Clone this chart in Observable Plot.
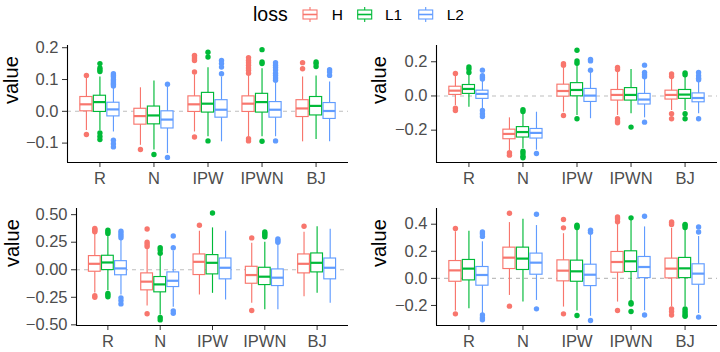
<!DOCTYPE html>
<html><head><meta charset="utf-8">
<script src="https://cdn.jsdelivr.net/npm/d3@7"></script>
<script src="https://cdn.jsdelivr.net/npm/@observablehq/plot@0.6"></script>
<style>
body{margin:0;background:#fff;}
#wrap{position:relative;width:720px;height:352px;font-family:"Liberation Sans",Arial,Helvetica,sans-serif;}
#wrap > div.panel{position:absolute;}
</style></head><body>
<div id="wrap"><svg id="legend" width="720" height="30" style="position:absolute;left:0;top:0"></svg></div>
<script>
const categories = ["R", "N", "IPW", "IPWN", "BJ"];
const losses = ["H", "L1", "L2"];
const lossColors = ["#F8766D", "#00BA38", "#619CFF"];

// rows: [category, loss, whiskerLow, q1, median, q3, whiskerHigh, outliers]
const panel1 = [
  ["R","H",-0.06,0.0,0.022,0.045,0.105,[0.113,-0.073]],
  ["R","L1",-0.06,-0.002,0.029,0.049,0.108,[0.15,0.136,0.131,0.125,-0.068,-0.079,-0.089]],
  ["R","L2",-0.065,-0.016,0.006,0.027,0.076,[0.118,0.113,0.108,0.1,0.095,0.09,0.085,0.08,-0.091,-0.102,-0.112]],
  ["N","H",-0.107,-0.042,-0.015,0.008,0.074,[-0.12]],
  ["N","L1",-0.122,-0.041,-0.013,0.015,0.095,[-0.136]],
  ["N","L2",-0.133,-0.054,-0.026,0.0,0.076,[0.085,-0.145]],
  ["IPW","H",-0.065,-0.002,0.022,0.047,0.115,[0.176,0.171,0.165,0.16,0.124,-0.081]],
  ["IPW","L1",-0.08,-0.004,0.024,0.058,0.137,[0.186,0.171,-0.093]],
  ["IPW","L2",-0.096,-0.02,0.005,0.035,0.108,[0.16,0.15,0.139,0.118]],
  ["IPWN","H",-0.08,-0.002,0.024,0.047,0.113,[0.169,0.16,0.153,0.145,0.136,0.129,0.12,-0.086,-0.093]],
  ["IPWN","L1",-0.08,-0.004,0.029,0.055,0.134,[0.194,0.155,0.15,-0.094]],
  ["IPWN","L2",-0.08,-0.02,0.005,0.029,0.092,[0.153,0.145,0.138,0.13,0.12,0.113,0.105,0.098,-0.093]],
  ["BJ","H",-0.096,-0.018,0.009,0.035,0.108,[0.153,0.134]],
  ["BJ","L1",-0.089,-0.013,0.017,0.045,0.111,[0.155,0.15,0.141]],
  ["BJ","L2",-0.096,-0.024,0.001,0.026,0.092,[0.131,0.124,0.113]]
];
const panel2 = [
  ["R","H",-0.056,0.006,0.031,0.054,0.118,[0.131,-0.071,-0.085]],
  ["R","L1",-0.066,0.012,0.041,0.064,0.128,[0.17,0.157,0.137]],
  ["R","L2",-0.075,-0.017,0.012,0.031,0.089,[0.151,0.118,0.108,0.099,-0.085,-0.104,-0.12]],
  ["N","H",-0.32,-0.253,-0.222,-0.197,-0.128,[-0.332,-0.346]],
  ["N","L1",-0.307,-0.243,-0.211,-0.182,-0.104,[-0.081,-0.091,-0.323,-0.336,-0.352,-0.361]],
  ["N","L2",-0.317,-0.249,-0.216,-0.193,-0.095,[-0.336]],
  ["IPW","H",-0.095,-0.004,0.029,0.066,0.166,[0.189,0.18,-0.114]],
  ["IPW","L1",-0.114,-0.002,0.035,0.075,0.176,[0.267,0.205,0.191,-0.133]],
  ["IPW","L2",-0.133,-0.035,0.002,0.041,0.137,[0.214,0.205,0.151]],
  ["IPWN","H",-0.114,-0.027,0.006,0.035,0.137,[0.166,0.155,-0.133,-0.147,-0.157]],
  ["IPWN","L1",-0.104,-0.027,0.006,0.046,0.155,[-0.182]],
  ["IPWN","L2",-0.128,-0.05,-0.021,0.012,0.099,[0.18,0.137,0.124,0.112,-0.153]],
  ["BJ","H",-0.085,-0.021,0.006,0.031,0.099,[0.128,0.114,-0.104,-0.133]],
  ["BJ","L1",-0.085,-0.017,0.008,0.035,0.108,[0.135,0.124,-0.104,-0.133]],
  ["BJ","L2",-0.104,-0.037,-0.012,0.015,0.079,[0.137,0.118,0.104,0.095,-0.133]]
];
const panel3 = [
  ["R","H",-0.21,-0.018,0.054,0.124,0.33,[0.345,0.355,0.365,0.375,-0.235,-0.25]],
  ["R","L1",-0.19,-0.003,0.066,0.127,0.31,[0.33,0.345,0.36,-0.215,-0.23,-0.245]],
  ["R","L2",-0.23,-0.05,0.012,0.078,0.27,[0.29,0.31,0.33,0.35,-0.255,-0.28,-0.31]],
  ["N","H",-0.33,-0.187,-0.108,-0.033,0.19,[0.21,0.23,0.25,0.37,-0.40]],
  ["N","L1",-0.41,-0.205,-0.133,-0.066,0.14,[0.15,0.18,0.2,-0.434,-0.455]],
  ["N","L2",-0.34,-0.157,-0.1,-0.024,0.17,[0.2,0.307,-0.373,-0.395]],
  ["IPW","H",-0.229,-0.048,0.072,0.139,0.35,[0.404]],
  ["IPW","L1",-0.214,-0.042,0.063,0.133,0.38,[0.515]],
  ["IPW","L2",-0.274,-0.087,0.018,0.102,0.35,[]],
  ["IPWN","H",-0.304,-0.127,-0.048,0.027,0.24,[0.289,-0.37]],
  ["IPWN","L1",-0.364,-0.139,-0.063,0.018,0.25,[0.3,0.315,0.33,0.343]],
  ["IPWN","L2",-0.364,-0.148,-0.072,0.003,0.23,[0.25,0.265,0.28]],
  ["BJ","H",-0.244,-0.033,0.054,0.139,0.34,[0.395]],
  ["BJ","L1",-0.214,-0.024,0.063,0.148,0.39,[]],
  ["BJ","L2",-0.304,-0.087,0.018,0.102,0.367,[]]
];
const panel4 = [
  ["R","H",-0.24,-0.025,0.059,0.128,0.345,[0.368,-0.262]],
  ["R","L1",-0.225,-0.015,0.072,0.136,0.348,[]],
  ["R","L2",-0.26,-0.054,0.025,0.084,0.27,[0.343,0.33,0.31,-0.27,-0.29,-0.305]],
  ["N","H",-0.126,0.069,0.153,0.227,0.412,[0.481,-0.205]],
  ["N","L1",-0.175,0.062,0.146,0.227,0.437,[]],
  ["N","L2",-0.163,0.027,0.116,0.183,0.39,[0.474,-0.225]],
  ["IPW","H",-0.212,-0.022,0.057,0.133,0.33,[0.435,0.373,-0.262]],
  ["IPW","L1",-0.24,-0.025,0.052,0.131,0.36,[0.393,0.385,0.375,-0.274]],
  ["IPW","L2",-0.28,-0.057,0.027,0.101,0.32,[0.355,0.34,-0.311]],
  ["IPWN","H",-0.175,0.042,0.121,0.195,0.4,[0.454,0.44,0.418,-0.237]],
  ["IPWN","L1",-0.17,0.047,0.126,0.2,0.43,[0.447,-0.18,-0.19,-0.245]],
  ["IPWN","L2",-0.24,0.002,0.084,0.158,0.38,[0.459,-0.27]],
  ["BJ","H",-0.21,0.0,0.072,0.146,0.37,[0.417,0.41,0.398,-0.225,-0.245,-0.27]],
  ["BJ","L1",-0.21,0.002,0.074,0.151,0.36,[0.398,0.39,0.375,-0.225,-0.24,-0.255,-0.27,-0.28]],
  ["BJ","L2",-0.26,-0.047,0.035,0.104,0.31,[0.38,0.343,-0.286]]
];

const yTicks1 = [-0.1, 0, 0.1, 0.2];
const yTicks2 = [-0.2, 0, 0.2];
const yTicks3 = [-0.5, -0.25, 0, 0.25, 0.5];
const yTicks4 = [-0.2, 0, 0.2, 0.4];
const yLabel = "value";
const legendTitle = "loss";

const FONT = '"Liberation Sans", Arial, Helvetica, sans-serif';

function xPos(cat, loss) {
  return categories.indexOf(cat) + 1 + (losses.indexOf(loss) - 1) * 0.25;
}

function makePanel(rows, cfg) {
  const half = 0.1125;
  const boxes = rows.map(([cat, loss, lo, q1, med, q3, hi]) => {
    const x = xPos(cat, loss);
    return {cat, loss, x, x1: x - half, x2: x + half, lo, q1, med, q3, hi};
  });
  const outs = rows.flatMap(([cat, loss, , , , , , out]) =>
    out.map(v => ({loss, x: xPos(cat, loss), v})));
  const fmt = d3.format(cfg.fmt);
  return Plot.plot({
    width: 360,
    height: cfg.height,
    marginLeft: cfg.mL, marginRight: cfg.mR, marginTop: cfg.mT, marginBottom: cfg.mB,
    style: {fontFamily: FONT, background: "transparent", overflow: "visible"},
    x: {type: "linear", domain: [0.4, 5.6]},
    y: {domain: cfg.yDomain},
    color: {domain: losses, range: lossColors},
    marks: [
      Plot.ruleY([0], {stroke: "#bebebe", strokeDasharray: "4,4", strokeWidth: 1.1}),
      Plot.ruleX(boxes, {x: "x", y1: "lo", y2: "hi", stroke: "loss", strokeWidth: 1.15}),
      Plot.rectY(boxes, {x1: "x1", x2: "x2", y1: "q1", y2: "q3", fill: "white", stroke: "loss", strokeWidth: 1.15}),
      Plot.ruleY(boxes, {x1: "x1", x2: "x2", y: "med", stroke: "loss", strokeWidth: 2.2}),
      Plot.dot(outs, {x: "x", y: "v", fill: "loss", r: 2.7}),
      Plot.axisY({ticks: cfg.yTicks, tickFormat: fmt, tickSize: 5, tickPadding: 4, fontSize: 16.5, color: "#4d4d4d", stroke: "#333", label: null}),
      Plot.axisX({ticks: [1, 2, 3, 4, 5], tickFormat: i => categories[i - 1], tickSize: 5, tickPadding: 5, fontSize: 16.5, color: "#4d4d4d", stroke: "#333", label: null}),
      Plot.ruleX([0.4], {stroke: "black", strokeWidth: 1.1}),
      Plot.ruleY([cfg.yDomain[0]], {stroke: "black", strokeWidth: 1.1}),
      Plot.text([yLabel], {frameAnchor: "left", dx: cfg.labelDx, rotate: -90, fontSize: 20, fill: "black"})
    ]
  });
}

const wrap = document.getElementById("wrap");
function place(node, left, top) {
  const d = document.createElement("div");
  d.className = "panel";
  d.style.left = left + "px";
  d.style.top = top + "px";
  d.appendChild(node);
  wrap.appendChild(d);
}

place(makePanel(panel1, {height: 162, mL: 67, mR: 12, mT: 15, mB: 30, yDomain: [-0.161, 0.207], yTicks: yTicks1, fmt: ".1f", labelDx: -55.5}), 0, 30);
place(makePanel(panel2, {height: 162, mL: 76, mR: 3, mT: 15, mB: 30, yDomain: [-0.389, 0.295], yTicks: yTicks2, fmt: ".1f", labelDx: -57}), 360, 30);
place(makePanel(panel3, {height: 160, mL: 76, mR: 12, mT: 16, mB: 27, yDomain: [-0.506, 0.556], yTicks: yTicks3, fmt: ".2f", labelDx: -64}), 0, 192);
place(makePanel(panel4, {height: 160, mL: 76, mR: 3, mT: 16, mB: 27, yDomain: [-0.348, 0.516], yTicks: yTicks4, fmt: ".1f", labelDx: -57}), 360, 192);

// Legend
const leg = d3.select("#legend").style("font-family", FONT);
leg.append("text").attr("x", 253).attr("y", 21).attr("font-size", 19.5).attr("fill", "black").text(legendTitle);
const keyX = [301, 355.7, 416.7];
const labX = [331.7, 385, 446.7];
losses.forEach((l, i) => {
  const g = leg.append("g").attr("transform", `translate(${keyX[i]},5.5)`)
    .attr("stroke", lossColors[i]).attr("fill", "none").attr("stroke-width", 1.1);
  g.append("line").attr("x1", 9).attr("x2", 9).attr("y1", 1.5).attr("y2", 16.5);
  g.append("rect").attr("x", 2).attr("y", 4.5).attr("width", 14).attr("height", 9).attr("fill", "white");
  g.append("line").attr("x1", 2).attr("x2", 16).attr("y1", 9).attr("y2", 9).attr("stroke-width", 1.6);
  leg.append("text").attr("x", labX[i]).attr("y", 20).attr("font-size", 15.5).attr("fill", "black").text(l);
});
</script>
</body></html>
